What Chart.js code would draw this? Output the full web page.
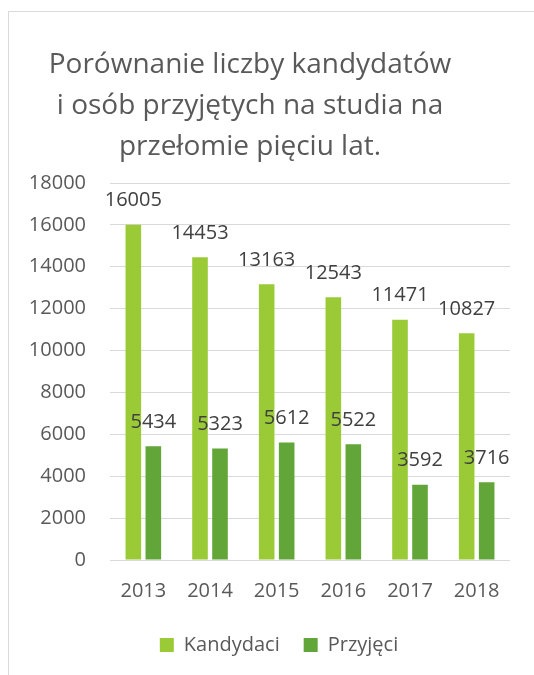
<!DOCTYPE html>
<html lang="pl">
<head>
<meta charset="utf-8">
<title>Kandydaci i przyjęci</title>
<script src="https://cdn.jsdelivr.net/npm/chart.js@4.4.1/dist/chart.umd.min.js"></script>
<style>
  html, body { margin: 0; padding: 0; background: #fff; overflow: hidden; }
  #ramka {
    position: absolute; left: 8px; top: 11px; width: 700px; height: 800px;
    border-left: 1px solid #d9d9d9; border-top: 1px solid #d9d9d9;
  }
  #wykres { position: absolute; left: 0; top: 0; }
</style>
</head>
<body>
<div id="ramka"></div>
<canvas id="wykres" width="534" height="675"></canvas>
<script>
const lata = ['2013', '2014', '2015', '2016', '2017', '2018'];
const kandydaci = [16005, 14453, 13163, 12543, 11471, 10827];
const przyjeci = [5434, 5323, 5612, 5522, 3592, 3716];
const tytul = ['Porównanie liczby kandydatów', 'i osób przyjętych na studia na', 'przełomie pięciu lat.'];

const czcionka = "'Open Sans', sans-serif";

// tytuł rysowany ręcznie, bo w oryginale nie jest wyśrodkowany nad wykresem
const tytulPlugin = {
  id: 'tytul',
  afterLayout(chart) {
    // legenda w oryginale jest lekko przesunięta w prawo
    chart.legend.left += 14;
    chart.legend.right += 14;
  },
  afterDraw(chart) {
    const ctx = chart.ctx;
    ctx.save();
    ctx.font = '28px ' + czcionka;
    ctx.fillStyle = '#595959';
    ctx.textAlign = 'center';
    ctx.textBaseline = 'alphabetic';
    tytul.forEach((linia, i) => {
      ctx.fillText(linia, 250, 73 + i * 41);
    });
    ctx.restore();
  }
};

// etykiety wartości nad słupkami
const etykietyPlugin = {
  id: 'etykiety',
  afterDatasetsDraw(chart) {
    const ctx = chart.ctx;
    ctx.save();
    ctx.font = '20px ' + czcionka;
    ctx.fillStyle = '#404040';
    ctx.textAlign = 'center';
    ctx.textBaseline = 'middle';
    chart.data.datasets.forEach((zbior, i) => {
      chart.getDatasetMeta(i).data.forEach((slupek, j) => {
        ctx.fillText(String(zbior.data[j]), slupek.x, slupek.y - 24);
      });
    });
    ctx.restore();
  }
};

const ctx = document.getElementById('wykres');
new Chart(ctx, {
  type: 'bar',
  data: {
    labels: lata,
    datasets: [
      {
        label: 'Kandydaci',
        data: kandydaci,
        backgroundColor: '#9ACB37',
        categoryPercentage: 0.6,
        barPercentage: 0.78
      },
      {
        label: 'Przyjęci',
        data: przyjeci,
        backgroundColor: '#62A539',
        categoryPercentage: 0.6,
        barPercentage: 0.78
      }
    ]
  },
  options: {
    responsive: false,
    animation: false,
    layout: {
      padding: { top: 183, left: 20, right: 24, bottom: 10 }
    },
    scales: {
      x: {
        grid: { display: false },
        border: { display: false },
        ticks: {
          padding: 11,
          color: '#595959',
          font: { size: 20, family: czcionka }
        },
        afterFit(skala) {
          skala.height = 51;
        }
      },
      y: {
        min: 0,
        max: 18000,
        border: { display: false },
        grid: { color: '#d9d9d9', lineWidth: 1, drawTicks: false },
        ticks: {
          stepSize: 2000,
          padding: 24,
          color: '#595959',
          font: { size: 20, family: czcionka },
          callback: (wartosc) => String(wartosc)
        },
        afterFit(skala) {
          skala.width = 90;
        }
      }
    },
    plugins: {
      title: { display: false },
      tooltip: { enabled: false },
      legend: {
        display: true,
        position: 'bottom',
        labels: {
          boxWidth: 14,
          boxHeight: 14,
          padding: 24,
          color: '#595959',
          font: { size: 20, family: czcionka }
        }
      }
    }
  },
  plugins: [tytulPlugin, etykietyPlugin]
});
</script>
</body>
</html>
